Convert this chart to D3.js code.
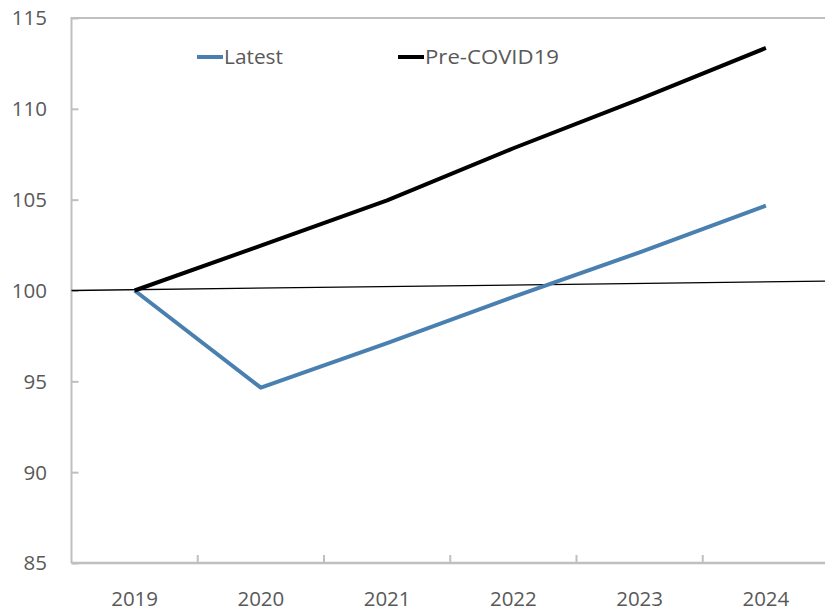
<!DOCTYPE html>
<html>
<head>
<meta charset="utf-8">
<script src="https://cdn.jsdelivr.net/npm/d3@7"></script>
<style>
  html, body { margin: 0; padding: 0; background: #fff; }
  svg { display: block; }
  text { font-family: "Open Sans", "Noto Sans", sans-serif; fill: #595959; }
</style>
</head>
<body>
<svg id="chart" width="825" height="611"></svg>
<script>
// Index levels, 2019 = 100
const years = ["2019", "2020", "2021", "2022", "2023", "2024"];
const latest = [100, 94.65, 97.1, 99.65, 102.1, 104.67];
const preCovid = [100, 102.47, 104.96, 107.83, 110.54, 113.35];
// Thin reference line spanning the plot, value at left and right edges
const referenceLine = [100, 100.52];
const yTicks = [85, 90, 95, 100, 105, 110, 115];
const seriesNames = ["Latest", "Pre-COVID19"];
const seriesColors = ["#4a80b0", "#000000"];

const svg = d3.select("#chart");
const m = { left: 71.5, right: 829, top: 18, bottom: 563 };

const x = d3.scaleBand().domain(years).range([m.left, m.right]).padding(0);
const y = d3.scaleLinear().domain([85, 115]).range([m.bottom, m.top]);
const cx = d => x(d) + x.bandwidth() / 2;

const axisColor = "#bfbfbf";

// Plot frame (left, top, bottom)
svg.append("path")
  .attr("d", `M${m.left},${m.bottom}V${m.top}H${m.right}`)
  .attr("fill", "none").attr("stroke", axisColor).attr("stroke-width", 2);

// Y axis: ticks point inward
const yAxis = svg.append("g").attr("transform", `translate(${m.left},0)`)
  .call(d3.axisRight(y).tickValues(yTicks).tickSize(7).tickFormat(""));
yAxis.select(".domain").remove();
yAxis.selectAll("line").attr("stroke", axisColor).attr("stroke-width", 2);

svg.append("g").selectAll("text").data(yTicks).join("text")
  .attr("x", 47).attr("y", d => y(d)).attr("dy", "0.36em")
  .attr("text-anchor", "end").attr("font-size", 20.5)
  .text(d => d);

// X axis: ticks at category boundaries, pointing up
const bounds = years.slice(1).map(d => x(d));
svg.append("g").selectAll("line").data(bounds).join("line")
  .attr("x1", d => d).attr("x2", d => d)
  .attr("y1", m.bottom).attr("y2", m.bottom - 8)
  .attr("stroke", axisColor).attr("stroke-width", 2);
svg.append("line")
  .attr("x1", m.left).attr("x2", m.right).attr("y1", m.bottom).attr("y2", m.bottom)
  .attr("stroke", axisColor).attr("stroke-width", 2.5);

svg.append("g").selectAll("text").data(years).join("text")
  .attr("x", d => cx(d)).attr("y", 606)
  .attr("text-anchor", "middle").attr("font-size", 20.5)
  .text(d => d);

// Thin reference line
svg.append("line")
  .attr("x1", m.left).attr("x2", m.right)
  .attr("y1", y(referenceLine[0])).attr("y2", y(referenceLine[1]))
  .attr("stroke", "#000").attr("stroke-width", 1.3);

// Series lines
const line = d3.line().x((d, i) => cx(years[i])).y(d => y(d));
[latest, preCovid].forEach((s, i) => {
  svg.append("path").datum(s)
    .attr("d", line)
    .attr("fill", "none")
    .attr("stroke", seriesColors[i])
    .attr("stroke-width", 4)
    .attr("stroke-linejoin", "round")
    .attr("stroke-linecap", "butt");
});

// Legend
const legendX = [197, 398];
const legend = svg.append("g");
seriesNames.forEach((name, i) => {
  legend.append("line")
    .attr("x1", legendX[i]).attr("x2", legendX[i] + 26)
    .attr("y1", 57).attr("y2", 57)
    .attr("stroke", seriesColors[i]).attr("stroke-width", 4);
  legend.append("text")
    .attr("x", legendX[i] + 27).attr("y", 57).attr("dy", "0.36em")
    .attr("font-size", 20.5)
    .attr("textLength", name === "Latest" ? 59 : 134)
    .attr("lengthAdjust", "spacingAndGlyphs")
    .text(name);
});
</script>
</body>
</html>
